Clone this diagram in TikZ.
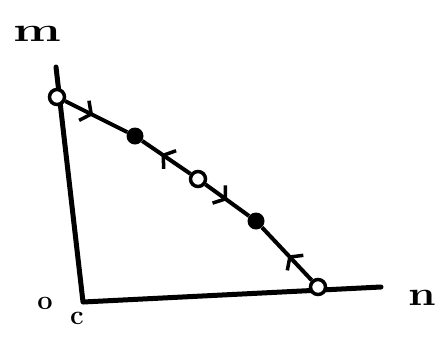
\documentclass[tikz,border=0pt]{standalone}
\usetikzlibrary{arrows.meta,decorations.markings}
\begin{document}
\begin{tikzpicture}[x=1pt,y=-1pt,
  axis/.style={line width=5pt,line cap=round,line join=round},
  seg/.style={line width=4pt},
  midarrow/.style={postaction={decorate},decoration={markings,mark=at position #1 with {\arrow{Straight Barb[length=8pt,width=22pt,line width=3.5pt]}}}},
  opendot/.style={circle,draw,line width=3.5pt,minimum size=15pt,inner sep=0pt,fill=white},
  fulldot/.style={circle,fill,minimum size=17pt,inner sep=0pt},
  lab/.style={font=\fontsize{34}{34}\selectfont\bfseries,inner sep=0pt}]
\useasboundingbox (0,0) rectangle (446,338);
\coordinate (ytop) at (56,67);
\coordinate (O) at (83,302);
\coordinate (xend) at (381,287);
\draw[axis] (ytop) -- (O) -- (xend);
\node[opendot] (A) at (57,97) {};
\node[fulldot] (B) at (135,136) {};
\node[opendot] (C) at (198,179) {};
\node[fulldot] (D) at (256,221) {};
\node[opendot] (E) at (318,287) {};
\draw[seg,midarrow=0.45] (A) -- (B);
\draw[seg,midarrow=0.6] (C) -- (B);
\draw[seg,midarrow=0.5] (C) -- (D);
\draw[seg,midarrow=0.47] (E) -- (D);
\node[lab,xscale=1.5] (m) at (37,34) {m};
\node[lab,xscale=1.3] (n) at (422,298) {n};
\node[lab,scale=0.8] (o) at (45,303) {o};
\node[lab,scale=0.8] (c) at (77,318) {c};
\end{tikzpicture}
\end{document}
